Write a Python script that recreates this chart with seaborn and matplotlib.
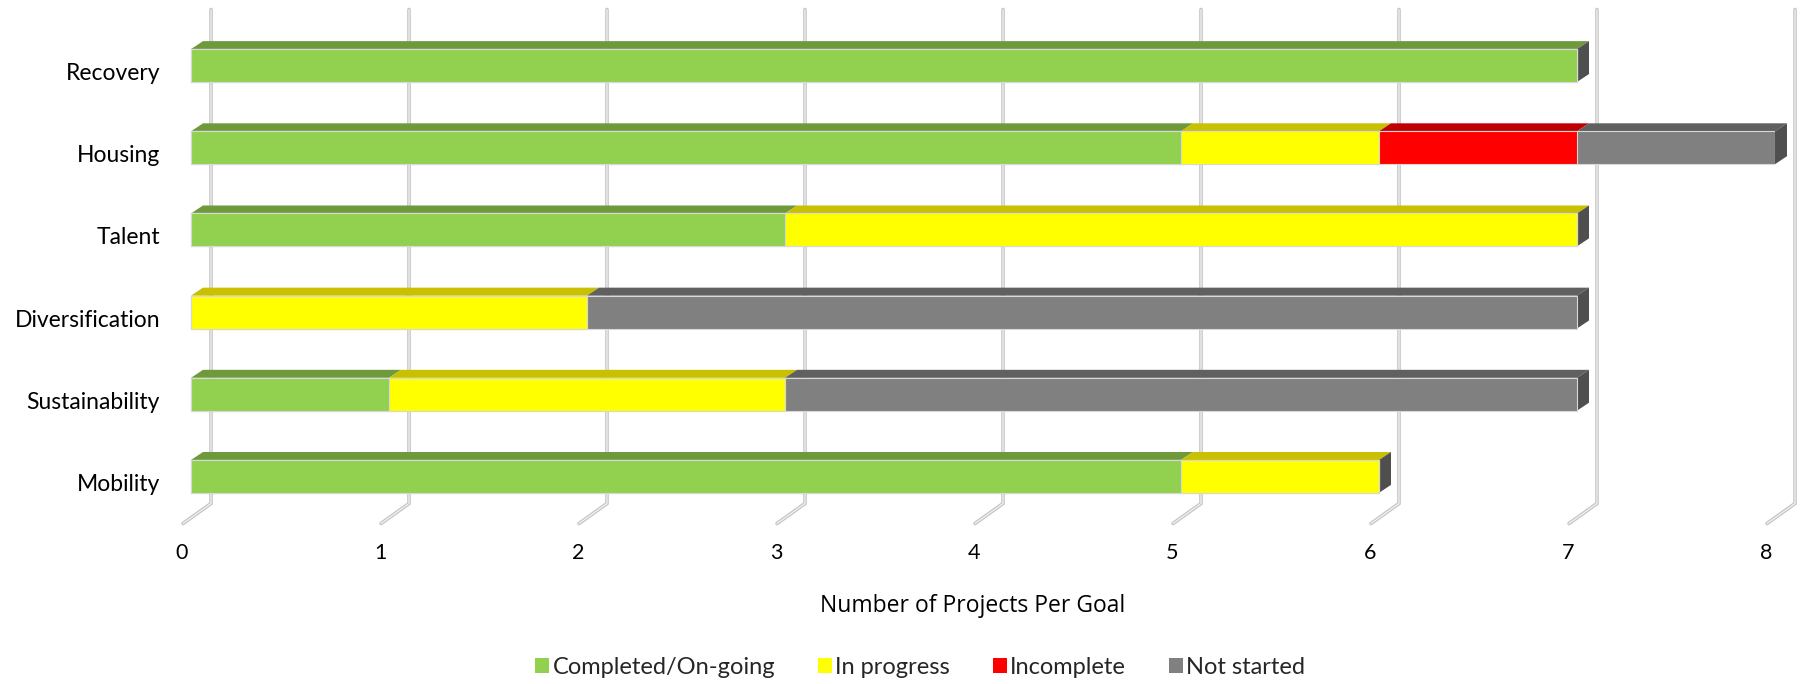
import matplotlib

matplotlib.use("Agg")
import matplotlib.pyplot as plt
from matplotlib.patches import Patch, Polygon
import numpy as np
import seaborn as sns

goals = ["Recovery", "Housing", "Talent", "Diversification", "Sustainability", "Mobility"]
completed = [7, 5, 3, 0, 1, 5]
in_progress = [0, 1, 4, 2, 2, 1]
incomplete = [0, 1, 0, 0, 0, 0]
not_started = [0, 1, 0, 5, 4, 0]

series_names = ["Completed/On-going", "In progress", "Incomplete", "Not started"]
x_ticks = [0, 1, 2, 3, 4, 5, 6, 7, 8]

FRONT = ["#92D050", "#FFFF00", "#FF0000", "#808080"]
TOP = ["#6E9A3C", "#C8C000", "#C00000", "#606060"]
SIDE = "#4F4F4F"

sns.set_theme(style="white")
plt.rcParams["font.family"] = ["Lato", "DejaVu Sans"]

# 198 px per unit; a 12 px margin left of zero keeps the shifted "0" label
fig = plt.figure(figsize=(18.04, 6.84), dpi=100)
ax = fig.add_axes([179 / 1804, 0.2434, 1596 / 1804, 0.7208])
px_x = 8 / (0.8782 * 1804)
px_y = 6 / (0.7208 * 684)
dx, dy = 12 * px_x, 8 * px_y

values = np.array([completed, in_progress, incomplete, not_started], dtype=float)
cum = np.cumsum(values, axis=0)
bar_h = 0.40

# front faces: draw cumulative totals from the outermost series inward
for i in range(len(series_names) - 1, -1, -1):
    sns.barplot(x=cum[i], y=goals, orient="h", color=FRONT[i], saturation=1,
                width=bar_h, edgecolor="#D8D8D8", linewidth=0.8, ax=ax, zorder=3)

# 3D gridlines: back wall + floor slant
for t in x_ticks:
    xs = [t + 20 * px_x, t + 20 * px_x, t - 8 * px_x]
    ys = [-0.5 - 15 * px_y, 5.5 - 14 * px_y, 5.5 + 6 * px_y]
    ax.plot(xs, ys, color="#C4C4C4", lw=2.6, clip_on=False, zorder=1,
            solid_joinstyle="miter")
    ax.plot(xs, ys, color="#F2F2F2", lw=0.9, clip_on=False, zorder=1.5)

# top faces and right side face
for j in range(len(goals)):
    top = j - bar_h / 2
    bottom = j + bar_h / 2
    left = 0.0
    for i in range(len(series_names)):
        w = values[i, j]
        if w > 0:
            poly = Polygon([(left, top), (left + dx, top - dy),
                            (left + w + dx, top - dy), (left + w, top)],
                           closed=True, facecolor=TOP[i], edgecolor="none",
                           zorder=2.5, clip_on=False)
            ax.add_patch(poly)
        left += w
    side = Polygon([(left, top), (left + dx, top - dy), (left + dx, bottom - dy),
                    (left, bottom)], closed=True, facecolor=SIDE,
                   edgecolor="none", zorder=2.5, clip_on=False)
    ax.add_patch(side)

sns.despine(ax=ax, left=True, bottom=True)
ax.grid(False)
# labels sit under the front end of the slanted floor lines
ax.set_xticks([t - 9 * px_x for t in x_ticks])
ax.set_xticklabels([str(t) for t in x_ticks], fontsize=15.5, color="#000000")
ax.tick_params(axis="x", length=0, pad=18)
ax.set_xlim(-12 * px_x, 8)
ax.set_ylim(5.5, -0.5)

# category labels, nudged a little below the bar centre like the original
ax.set_yticks([])
for j, name in enumerate(goals):
    ax.text(-31 * px_x, j + 8 * px_y, name, ha="right", va="center",
            fontsize=16.5, color="#000000", clip_on=False)
ax.set_ylabel("")
ax.set_xlabel("Number of Projects Per Goal", fontsize=16.5,
              family=["Open Sans", "DejaVu Sans"], color="#000000")
ax.xaxis.set_label_coords(0.497, -0.155)

handles = [Patch(facecolor=c, edgecolor="none") for c in FRONT]
fig.legend(handles, series_names, loc="center", bbox_to_anchor=(0.510, 0.024),
           ncol=4, frameon=False, fontsize=17, handlelength=0.6, handleheight=0.6,
           handletextpad=0.15, columnspacing=1.8)

fig.savefig("out.png", dpi=100)
